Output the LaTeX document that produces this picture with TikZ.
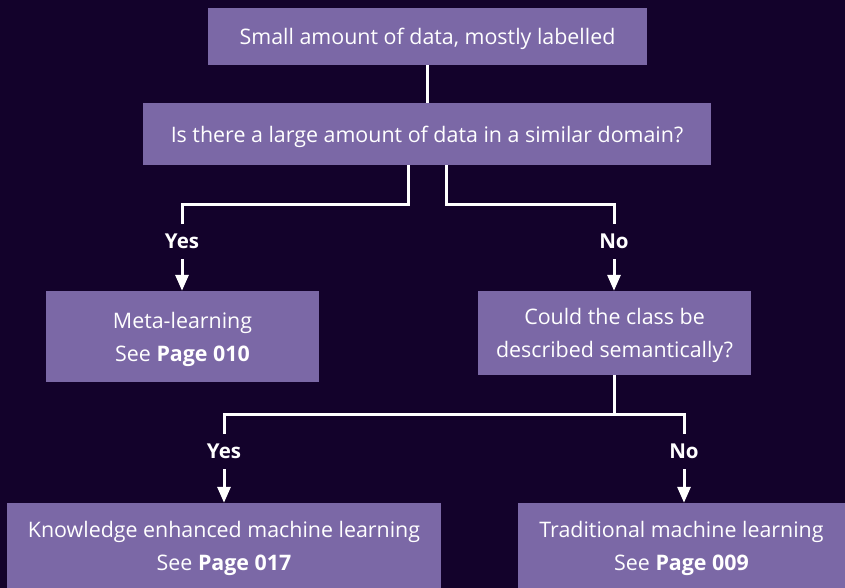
\documentclass[tikz,border=0pt]{standalone}
\usepackage{fontspec}
\setmainfont{Open Sans}
\usetikzlibrary{shapes,arrows.meta,calc}
\usepackage{color}
\definecolor{bgdark}{RGB}{19,2,43}
\definecolor{boxpurple}{RGB}{123,104,166}

\tikzset{
  box/.style={fill=boxpurple, text=white, align=center, inner sep=0pt, text depth=0pt, font=\fontsize{21.4}{33}\selectfont},
  answer/.style={text=white, font=\bfseries\fontsize{20.5}{23}\selectfont, minimum height=35pt, inner sep=0pt, text depth=0pt},
  link/.style={draw=white, line width=3pt},
}

\begin{document}
\begin{tikzpicture}[x=1pt, y=-1pt, >={Triangle[width=13pt,length=16pt]}]

\fill[bgdark] (0,0) rectangle (845,588);
\useasboundingbox (0,0) rectangle (845,588);

\node[box, minimum width=439pt, minimum height=57pt] at (427.5, 36.5) (start) {Small amount of data, mostly labelled};
\node[box, minimum width=568pt, minimum height=62pt] at (427, 134) (domain) {Is there a large amount of data in a similar domain?};
\draw [link] (start.south) -- (start.south |- domain.north);

\node[answer] at (182, 241.5) (yesA) {Yes};
\node[answer] at (614, 241.5) (noA) {No};
\coordinate (domL) at ($(domain.south)+(-19,0)$);
\coordinate (domR) at ($(domain.south)+(19,0)$);
\draw [link] (domL) -- ++(0,39) -| (yesA.north);
\draw [link] (domR) -- ++(0,39) -| (noA.north);

\node[box, minimum width=273pt, minimum height=91pt] at (182.5, 336.5) (meta) {Meta-learning\\See \textbf{Page 010}};
\node[box, minimum width=273pt, minimum height=84pt] at (614.5, 333) (semantic) {Could the class be\\described semantically?};
\draw [link, ->] (yesA.south) -- (yesA |- meta.north);
\draw [link, ->] (noA.south) -- (noA |- semantic.north);

\node[answer] at (224, 451.5) (yesB) {Yes};
\node[answer] at (684, 451.5) (noB) {No};
\draw [link] (semantic.south) -- ++(0,39) coordinate (split);
\draw [link] (yesB.north) |- (split) -| (noB.north);
%\node at (614, 414) (splitdot) {};

\node[box, minimum width=434pt, minimum height=85pt] at (224, 545.5) (knowledge) {Knowledge enhanced machine learning\\See \textbf{Page 017}};
\node[box, minimum width=327pt, minimum height=85pt] at (681.5, 545.5) (traditional) {Traditional machine learning\\See \textbf{Page 009}};
\draw [link, ->] (yesB.south) -- (yesB |- knowledge.north);
\draw [link, ->] (noB.south) -- (noB |- traditional.north);

\end{tikzpicture}
\end{document}
